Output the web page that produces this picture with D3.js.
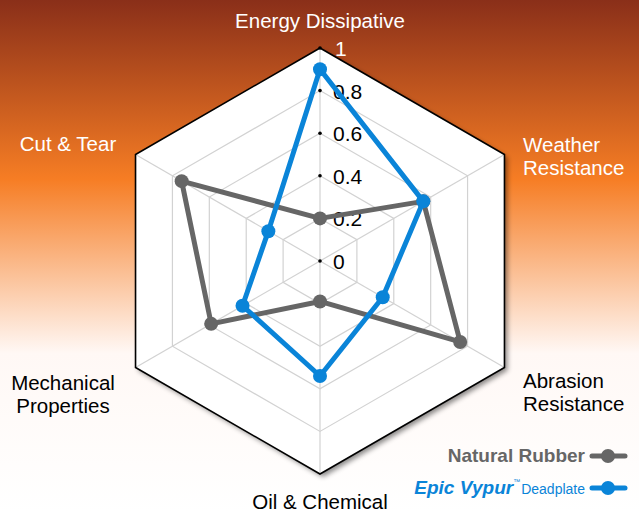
<!DOCTYPE html>
<html>
<head>
<meta charset="utf-8">
<script src="https://cdn.jsdelivr.net/npm/d3@7"></script>
<style>
  body { margin: 0; padding: 0; background: #fff; }
  svg { display: block; }
  text { font-family: "Liberation Sans", Arial, sans-serif; }
</style>
</head>
<body>
<div id="chart"></div>
<script>
// axes, clockwise from the top
const categories = ["Energy Dissipative", "Weather Resistance", "Abrasion Resistance",
                    "Oil & Chemical", "Mechanical Properties", "Cut & Tear"]
const naturalRubber = [0.20, 0.56, 0.76, 0.19, 0.59, 0.75]
const epicVypur     = [0.90, 0.56, 0.34, 0.54, 0.42, 0.28]
const ticks = [0, 0.2, 0.4, 0.6, 0.8, 1]
const tickLabels = ["0", "0.2", "0.4", "0.6", "0.8", "1"]

const width = 639, height = 512
const cx = 320, cy = 261, R = 213

const svg = d3.select('#chart').append('svg')
    .attr('width', width)
    .attr('height', height)

const defs = svg.append('defs')
const bg = defs.append('linearGradient').attr('id', 'bg')
    .attr('x1', 0).attr('y1', 0).attr('x2', 0).attr('y2', 1)
bg.append('stop').attr('offset', '0%').attr('stop-color', '#8a2f19')
bg.append('stop').attr('offset', '35%').attr('stop-color', '#f67d24')
bg.append('stop').attr('offset', '69%').attr('stop-color', '#fff8f5')
bg.append('stop').attr('offset', '100%').attr('stop-color', '#ffffff')

const shadow = defs.append('filter').attr('id', 'shadow')
    .attr('x', '-10%').attr('y', '-10%').attr('width', '130%').attr('height', '130%')
shadow.append('feDropShadow').attr('dx', 3).attr('dy', 3).attr('stdDeviation', 2.5)
    .attr('flood-color', '#000').attr('flood-opacity', 0.45)

svg.append('rect').attr('width', width).attr('height', height).attr('fill', 'url(#bg)')

const angle = d3.scalePoint().domain(categories).range([0, 2 * Math.PI * 5 / 6])
const r = d3.scaleLinear().domain([0, 1]).range([0, R])

const g = svg.append('g').attr('transform', "translate(" + cx + "," + cy + ")")

const ringLine = d3.lineRadial()
    .angle(d => angle(d))
    .curve(d3.curveLinearClosed)

// outer hexagon, white with shadow
g.append('path')
    .attr('d', ringLine.radius(r(1))(categories))
    .attr('fill', '#fff')
    .attr('filter', 'url(#shadow)')

// grid rings
ticks.filter(t => t > 0 && t < 1).forEach(t => {
    g.append('path')
        .attr('d', ringLine.radius(r(t))(categories))
        .attr('fill', 'none')
        .attr('stroke', '#d2d2d2')
        .attr('stroke-width', 1.2)
})

// spokes
categories.forEach(c => {
    const a = angle(c)
    g.append('line')
        .attr('x1', 0).attr('y1', 0)
        .attr('x2', r(1) * Math.sin(a)).attr('y2', -r(1) * Math.cos(a))
        .attr('stroke', '#d2d2d2')
        .attr('stroke-width', 1.2)
})

g.append('path')
    .attr('d', ringLine.radius(r(1))(categories))
    .attr('fill', 'none')
    .attr('stroke', '#000')
    .attr('stroke-width', 1.6)

// tick dots + labels on the top spoke
ticks.forEach((t, i) => {
    g.append('circle').attr('cx', 0).attr('cy', -r(t)).attr('r', 1.8).attr('fill', '#000')
    g.append('text')
        .attr('x', t === 1 ? 15 : 13)
        .attr('y', -r(t) + 8)
        .attr('font-size', 21)
        .attr('fill', t === 1 ? '#fff' : '#000')
        .text(tickLabels[i])
})

// series
const series = [
    {name: 'Natural Rubber', values: naturalRubber, color: '#666666'},
    {name: 'Epic Vypur', values: epicVypur, color: '#0a84d8'}
]
const dataLine = d3.lineRadial()
    .angle((d, i) => angle(categories[i]))
    .radius(d => r(d))
    .curve(d3.curveLinearClosed)

series.forEach(s => {
    g.append('path')
        .attr('d', dataLine(s.values))
        .attr('fill', 'none')
        .attr('stroke', s.color)
        .attr('stroke-width', 5)
        .attr('stroke-linejoin', 'round')
    g.selectAll(null)
        .data(s.values)
        .enter()
        .append('circle')
        .attr('cx', (d, i) => r(d) * Math.sin(angle(categories[i])))
        .attr('cy', (d, i) => -r(d) * Math.cos(angle(categories[i])))
        .attr('r', 7)
        .attr('fill', s.color)
})

// axis labels
const labels = [
    {lines: ["Energy Dissipative"], x: 320, y: 28, anchor: 'middle', color: '#fff'},
    {lines: ["Weather", "Resistance"], x: 523, y: 152, anchor: 'start', color: '#fff'},
    {lines: ["Abrasion", "Resistance"], x: 523, y: 388, anchor: 'start', color: '#000'},
    {lines: ["Oil & Chemical"], x: 320, y: 509, anchor: 'middle', color: '#000'},
    {lines: ["Mechanical", "Properties"], x: 63, y: 390, anchor: 'middle', color: '#000'},
    {lines: ["Cut & Tear"], x: 68, y: 151, anchor: 'middle', color: '#fff'}
]
labels.forEach(l => {
    const t = svg.append('text')
        .attr('x', l.x).attr('y', l.y)
        .attr('text-anchor', l.anchor)
        .attr('font-size', 20.5)
        .attr('fill', l.color)
    l.lines.forEach((ln, i) => {
        t.append('tspan').attr('x', l.x).attr('dy', i === 0 ? 0 : 22.5).text(ln)
    })
})

// legend
const leg = svg.append('g')
leg.append('text')
    .attr('x', 585).attr('y', 462)
    .attr('text-anchor', 'end')
    .attr('font-family', '"Open Sans", sans-serif')
    .attr('font-weight', 600)
    .attr('font-size', 19)
    .attr('fill', '#666')
    .text('Natural Rubber')

const epic = leg.append('text')
    .attr('x', 585).attr('y', 494)
    .attr('text-anchor', 'end')
    .attr('font-family', '"Open Sans", sans-serif')
    .attr('fill', '#0a84d8')
epic.append('tspan').attr('font-size', 19).attr('font-style', 'italic').attr('font-weight', 600).text('Epic Vypur')
epic.append('tspan').attr('font-size', 7).attr('dy', -10).text('™')
epic.append('tspan').attr('font-size', 14).attr('dy', 10).attr('dx', 1).text('Deadplate')

series.forEach((s, i) => {
    const y = 456 + i * 32
    leg.append('line')
        .attr('x1', 592).attr('x2', 625).attr('y1', y).attr('y2', y)
        .attr('stroke', s.color).attr('stroke-width', 5)
        .attr('stroke-linecap', 'round')
    leg.append('circle').attr('cx', 608).attr('cy', y).attr('r', 7).attr('fill', s.color)
})
</script>
</body>
</html>
